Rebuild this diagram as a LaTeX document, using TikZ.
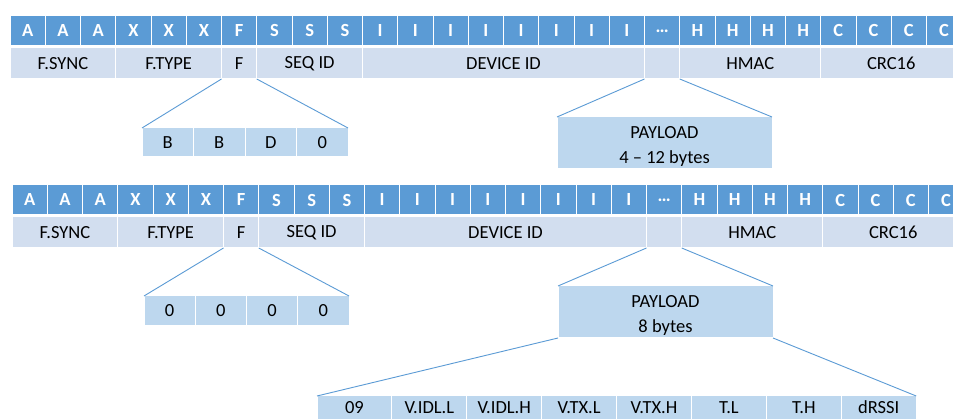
\documentclass[tikz,border=0pt]{standalone}
\usepackage{fontspec}
\setmainfont{Carlito}
\definecolor{hdr}{HTML}{5B9BD5}
\definecolor{lbl}{HTML}{D2DEEF}
\definecolor{sub}{HTML}{BDD7EE}
\begin{document}
\begin{tikzpicture}[x=1pt,y=-1pt,
  cell/.style={draw=white, line width=1pt, anchor=north west, inner sep=0pt, outer sep=0pt,
               font=\fontsize{18.5}{20}\selectfont},
  hcell/.style={cell, fill=hdr, text=white, font=\fontsize{18.5}{20}\selectfont\bfseries,
                minimum width=35.25pt, minimum height=30pt},
  lcell/.style={cell, fill=lbl, minimum height=31pt},
  scell/.style={cell, fill=sub},
  conn/.style={draw=hdr, line width=0.9pt}]
\useasboundingbox (0,0) rectangle (953,419);
\clip (0,0) rectangle (953,419);
\fill[white] (0,0) rectangle (953,419);

\foreach \fr/\xo/\yo in {1/10/16, 2/12/185}{
  \foreach \i/\lab in {0/A,1/A,2/A,3/X,4/X,5/X,6/F,7/S,8/S,9/S,
                       10/I,11/I,12/I,13/I,14/I,15/I,16/I,17/I,18/{…},
                       19/H,20/H,21/H,22/H,23/C,24/C,25/C,26/C}{
    \node[hcell] (h\fr-\i) at ({\xo+\i*35.25},\yo) {\lab};
  }
  \foreach \s/\n/\lab in {0/3/F.SYNC, 3/3/F.TYPE, 6/1/F, 7/3/SEQ ID, 10/8/DEVICE ID,
                          18/1/{}, 19/4/HMAC, 23/4/CRC16}{
    \node[lcell, minimum width=\n*35.25pt] (l\fr-\s) at ({\xo+\s*35.25},{\yo+32}) {\lab};
  }
}

% flag bits, frame 1
\foreach \i/\lab in {0/B,1/B,2/D,3/0}{
  \node[scell, minimum width=51.5pt, minimum height=29pt] (b1-\i) at ({142+\i*51.5},128) {\lab};
}
% flag bits, frame 2
\foreach \i/\lab in {0/0,1/0,2/0,3/0}{
  \node[scell, minimum width=51.25pt, minimum height=30pt] (b2-\i) at ({144+\i*51.25},296) {\lab};
}

% payloads
\node[scell, minimum width=215pt, minimum height=52pt, align=center,
      font=\fontsize{18.5}{25}\selectfont] (p1) at (557,117) {\rule{0pt}{19pt}PAYLOAD\\4 – 12 bytes};
\node[scell, minimum width=215pt, minimum height=52pt, align=center,
      font=\fontsize{18.5}{25}\selectfont] (p2) at (558,286) {\rule{0pt}{19pt}PAYLOAD\\8 bytes};

% payload detail
\foreach \i/\lab in {0/09,1/V.IDL.L,2/V.IDL.H,3/V.TX.L,4/V.TX.H,5/T.L,6/T.H,7/dRSSI}{
  \node[scell, minimum width=74.9pt, minimum height=23pt] (d-\i) at ({317+\i*74.9},396) {\lab};
}

% connectors
\draw[conn] (l1-6.south west) -- (b1-0.north west);
\draw[conn] (l1-6.south east) -- (b1-3.north east);
\draw[conn] (l1-18.south west) -- (p1.north west);
\draw[conn] (l1-18.south east) -- (p1.north east);
\draw[conn] (l2-6.south west) -- (b2-0.north west);
\draw[conn] (l2-6.south east) -- (b2-3.north east);
\draw[conn] (l2-18.south west) -- (p2.north west);
\draw[conn] (l2-18.south east) -- (p2.north east);
\draw[conn] (p2.south west) -- (d-0.north west);
\draw[conn] (p2.south east) -- (d-7.north east);
\end{tikzpicture}
\end{document}
